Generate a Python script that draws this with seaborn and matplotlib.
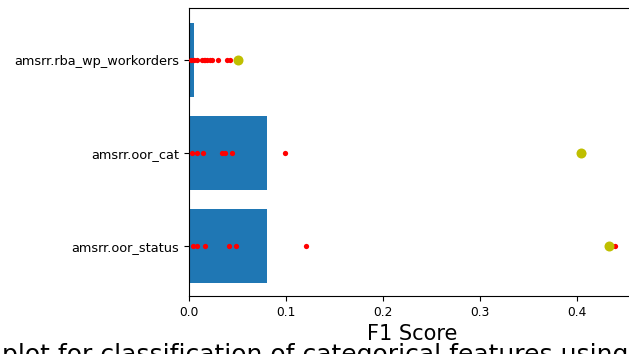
import matplotlib
matplotlib.use("Agg")
import matplotlib.pyplot as plt
import seaborn as sns
import pandas as pd

# Features, listed top to bottom
features = ["amsrr.rba_wp_workorders", "amsrr.oor_cat", "amsrr.oor_status"]

# Feature-level F1 score (bars)
bar_scores = [0.005, 0.08, 0.08]

# Individual F1 scores per feature (red dots)
red_workorders = [0.002, 0.005, 0.008, 0.013, 0.015, 0.017, 0.019, 0.022, 0.024,
                  0.030, 0.039, 0.042, 0.051]
red_oor_cat = [0.003, 0.0086, 0.014, 0.034, 0.037, 0.044, 0.099, 0.406]
red_oor_status = [0.0045, 0.0086, 0.017, 0.041, 0.048, 0.1206, 0.439]

# Best score per feature (yellow dots)
best_scores = [0.0505, 0.404, 0.433]

xlabel = "F1 Score"
caption = "plot for classification of categorical features using"

bars = pd.DataFrame({"feature": features, "f1": bar_scores})
dots = pd.DataFrame({
    "feature": [features[0]] * len(red_workorders)
    + [features[1]] * len(red_oor_cat)
    + [features[2]] * len(red_oor_status),
    "f1": red_workorders + red_oor_cat + red_oor_status,
})
best = pd.DataFrame({"feature": features, "f1": best_scores})

fig = plt.figure(figsize=(6.29, 3.54), dpi=100)
ax = fig.add_axes([0.3005, 0.1638, 0.709, 0.8136])

sns.barplot(data=bars, x="f1", y="feature", order=features, orient="h",
            color="#1f77b4", saturation=1, width=0.8, ax=ax, errorbar=None)
sns.stripplot(data=dots, x="f1", y="feature", order=features, orient="h",
              jitter=False, color="red", size=3.8, linewidth=0, ax=ax, zorder=3)
sns.stripplot(data=best, x="f1", y="feature", order=features, orient="h",
              jitter=False, color=(0.75, 0.75, 0.0), size=7.2, linewidth=0,
              ax=ax, zorder=4)

ax.set_xlim(0, 0.46)
ax.set_ylim(2.54, -0.556)
ax.set_xticks([0.0, 0.1, 0.2, 0.3, 0.4])
ax.set_xlabel(xlabel, fontsize=15)
ax.set_ylabel("")
ax.tick_params(axis="x", labelsize=8.8)
ax.tick_params(axis="y", labelsize=9.3)
for s in ax.spines.values():
    s.set_visible(True)
    s.set_color("black")

fig.text(0.003, -0.022, caption, fontsize=18, ha="left", va="baseline")

fig.savefig("out.png", dpi=100)
